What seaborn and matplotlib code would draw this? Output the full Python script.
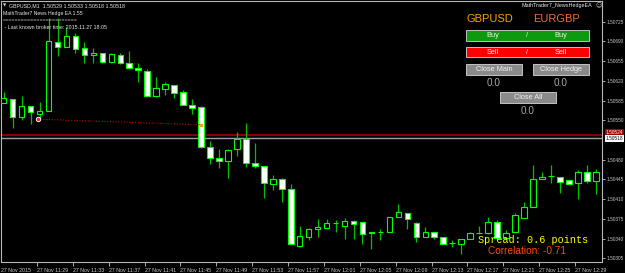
import matplotlib
matplotlib.use("Agg")
import matplotlib.pyplot as plt
import seaborn as sns
import numpy as np
import pandas as pd
from matplotlib.patches import Rectangle

# ---------------- data ----------------
open_ = [1.50581, 1.50588, 1.50556, 1.50575, 1.50561, 1.50566, 1.50689, 1.50680, 1.50700, 1.50678,
         1.50666, 1.50669, 1.50653, 1.50666, 1.50652, 1.50643, 1.50637, 1.50593, 1.50606, 1.50613,
         1.50600, 1.50577, 1.50574, 1.50503, 1.50483, 1.50478, 1.50499, 1.50517, 1.50474, 1.50469,
         1.50437, 1.50446, 1.50428, 1.50327, 1.50343, 1.50357, 1.50359, 1.50368, 1.50362, 1.50371,
         1.50369, 1.50350, 1.50352, 1.50352, 1.50378, 1.50385, 1.50368, 1.50343, 1.50352, 1.50343,
         1.50332, 1.50330, 1.50339, 1.50350, 1.50350, 1.50369, 1.50341, 1.50352, 1.50377, 1.50396,
         1.50446, 1.50451, 1.50449, 1.50444, 1.50439, 1.50458, 1.50442]
high = [1.50600, 1.50588, 1.50593, 1.50575, 1.50582, 1.50732, 1.50732, 1.50716, 1.50705, 1.50689,
        1.50678, 1.50669, 1.50669, 1.50669, 1.50673, 1.50652, 1.50641, 1.50627, 1.50618, 1.50613,
        1.50604, 1.50588, 1.50575, 1.50513, 1.50499, 1.50499, 1.50529, 1.50545, 1.50510, 1.50469,
        1.50453, 1.50448, 1.50437, 1.50362, 1.50359, 1.50375, 1.50375, 1.50373, 1.50377, 1.50373,
        1.50369, 1.50352, 1.50357, 1.50378, 1.50401, 1.50385, 1.50369, 1.50361, 1.50352, 1.50343,
        1.50338, 1.50339, 1.50352, 1.50362, 1.50378, 1.50373, 1.50355, 1.50385, 1.50405, 1.50471,
        1.50458, 1.50471, 1.50449, 1.50444, 1.50462, 1.50471, 1.50464]
low = [1.50581, 1.50536, 1.50550, 1.50543, 1.50550, 1.50566, 1.50664, 1.50680, 1.50669, 1.50652,
       1.50652, 1.50652, 1.50652, 1.50650, 1.50643, 1.50618, 1.50593, 1.50591, 1.50595, 1.50590,
       1.50577, 1.50561, 1.50501, 1.50472, 1.50465, 1.50448, 1.50487, 1.50467, 1.50465, 1.50412,
       1.50426, 1.50405, 1.50330, 1.50325, 1.50338, 1.50343, 1.50357, 1.50352, 1.50339, 1.50339,
       1.50330, 1.50322, 1.50338, 1.50352, 1.50378, 1.50357, 1.50334, 1.50343, 1.50339, 1.50330,
       1.50325, 1.50313, 1.50339, 1.50348, 1.50348, 1.50341, 1.50341, 1.50352, 1.50377, 1.50396,
       1.50446, 1.50439, 1.50421, 1.50437, 1.50410, 1.50439, 1.50419]
close = [1.50590, 1.50556, 1.50575, 1.50565, 1.50566, 1.50691, 1.50680, 1.50700, 1.50677, 1.50666,
         1.50669, 1.50653, 1.50668, 1.50652, 1.50643, 1.50639, 1.50593, 1.50607, 1.50614, 1.50598,
         1.50577, 1.50572, 1.50503, 1.50483, 1.50478, 1.50497, 1.50517, 1.50474, 1.50469, 1.50439,
         1.50446, 1.50428, 1.50330, 1.50345, 1.50357, 1.50361, 1.50368, 1.50368, 1.50371, 1.50366,
         1.50348, 1.50352, 1.50352, 1.50378, 1.50387, 1.50375, 1.50343, 1.50352, 1.50343, 1.50330,
         1.50332, 1.50339, 1.50350, 1.50350, 1.50369, 1.50341, 1.50350, 1.50382, 1.50396, 1.50446,
         1.50449, 1.50451, 1.50440, 1.50437, 1.50458, 1.50442, 1.50458]

time_labels = ["27 Nov 2015", "27 Nov 11:29", "27 Nov 11:33", "27 Nov 11:37", "27 Nov 11:41",
               "27 Nov 11:45", "27 Nov 11:49", "27 Nov 11:53", "27 Nov 11:57", "27 Nov 12:01",
               "27 Nov 12:05", "27 Nov 12:09", "27 Nov 12:13", "27 Nov 12:17", "27 Nov 12:21",
               "27 Nov 12:25", "27 Nov 12:29"]
time_label_bars = [0, 4, 8, 12, 16, 20, 24, 28, 32, 36, 40, 44, 48, 52, 56, 60, 64]
price_ticks = [1.50725, 1.50690, 1.50655, 1.50620, 1.50585, 1.50550, 1.50480,
               1.50445, 1.50410, 1.50375, 1.50340, 1.50305]
bid_price = 1.50518
ask_price = 1.50524
trade_x = [3.8, 22.0]
trade_price = [1.50552, 1.50542]

df = pd.DataFrame({"bar": np.arange(len(open_)), "open": open_, "high": high,
                   "low": low, "close": close})

# ---------------- figure ----------------
W, H = 625, 273
sns.set_theme(style="dark")
plt.rcParams["font.family"] = ["Liberation Sans", "DejaVu Sans"]
fig = plt.figure(figsize=(W / 100, H / 100), dpi=100, facecolor="black")

def fx(x):
    return x / W

def fy(y):
    return 1 - y / H

AX_RIGHT = 602
ax = fig.add_axes([fx(1), fy(262), fx(AX_RIGHT) - fx(1), fy(1) - fy(262)])
ax.set_facecolor("black")
for s in ax.spines.values():
    s.set_color("#b8b8b8")
    s.set_linewidth(0.8)

# wicks
ax.vlines(df["bar"], df["low"], df["high"], color="#00c000", lw=0.9, zorder=2)
# bodies
bull = df["close"] >= df["open"]
bottoms = np.minimum(df["open"], df["close"])
heights = np.abs(df["close"] - df["open"])
fills = np.where(bull, "black", "white")
ax.bar(df["bar"], heights, bottom=bottoms, width=0.62, color=fills,
       edgecolor="#00ff00", linewidth=0.8, zorder=3)

# price lines
ax.axhline(ask_price, color="#8b0000", lw=1.4, zorder=1)
ax.axhline(bid_price, color="#9aa0a8", lw=1.0, zorder=1)

# trade line
sns.lineplot(x=trade_x, y=trade_price, ax=ax, color="#c00000", lw=0.8,
             linestyle=(0, (1, 1.5)), zorder=4)
ax.plot([trade_x[0]], [trade_price[0]], marker="o", ms=3.2, color="#ff2020",
        mec="white", mew=0.6, zorder=5)
ax.plot([trade_x[1]], [trade_price[1]], marker="s", ms=2.0, color="#ff9900",
        mec="#ff9900", zorder=5)

ax.set_xlim((1 - 1.7) / 9, (AX_RIGHT - 1.7) / 9)
ax.set_ylim(1.502985, 1.507617)
ax.set_xlabel("")
ax.set_ylabel("")
ax.grid(False)

# right price axis
ax.yaxis.tick_right()
ax.set_yticks(price_ticks)
ax.set_yticklabels([f"{p:.5f}" for p in price_ticks])
ax.tick_params(axis="y", colors="#c8c8c8", labelsize=3.4, length=2.5, width=0.6,
               pad=0.8, right=True, left=False)
# bottom time axis
ax.set_xticks([b - 0.3 for b in time_label_bars])
ax.set_xticklabels(time_labels)
ax.tick_params(axis="x", colors="#c8c8c8", labelsize=3.8, length=3, width=0.6,
               pad=1.5, bottom=True)
for lab in ax.get_xticklabels():
    lab.set_horizontalalignment("left")
ax.get_xticklines()[0].set_visible(False)

# current price labels
ax.text(1.006, ask_price, "1.50524", transform=ax.get_yaxis_transform(),
        fontsize=3.4, color="#ffffff", va="bottom", ha="left",
        bbox=dict(boxstyle="square,pad=0.15", fc="#a00000", ec="none"), zorder=6,
        clip_on=False)
ax.text(1.006, bid_price, "1.50518", transform=ax.get_yaxis_transform(),
        fontsize=3.4, color="black", va="center", ha="left",
        bbox=dict(boxstyle="square,pad=0.2", fc="white", ec="none"), zorder=7,
        clip_on=False)

# ---------------- texts ----------------
def ptext(x, y, s, size, color, **kw):
    kw.setdefault("ha", "left")
    kw.setdefault("va", "center")
    fig.text(fx(x), fy(y), s, fontsize=size, color=color, **kw)

ptext(2.5, 5.5, "▼", 3.0, "#e0e0e0", family=["DejaVu Sans"])
ptext(9, 5.5, "GBPUSD,M1  1.50529 1.50533 1.50518 1.50518", 3.8, "#e8e8e8")
ptext(3, 13.5, "MathTrader7 News Hedge EA 1.55", 3.7, "#e8e8e8")
ptext(3, 20.5, "=" * 24, 3.75, "#c0c0c0")
ptext(3, 27.5, " - Last known broker time: 2015.11.27 18:05", 3.75, "#e8e8e8")

ptext(522, 6, "MathTrader7_NewsHedgeEA", 3.9, "#e8e8e8")
ptext(595, 6, "☺", 4.5, "#d0d0d0", family=["DejaVu Sans"])

ptext(489.5, 19, "GBPUSD", 8, "#f5a300", ha="center")
ptext(556, 19, "EURGBP", 8, "#f26a3c", ha="center")

def button(x0, y0, x1, y1, fc, ec="#d8d8d8"):
    r = Rectangle((fx(x0), fy(y1)), fx(x1) - fx(x0), fy(y0) - fy(y1),
                  transform=fig.transFigure, fc=fc, ec=ec, lw=0.6)
    fig.patches.append(r)

button(466, 30, 589, 41, "#0e9a0e")
ptext(493, 35.5, "Buy", 5.3, "#f0f0f0", ha="center")
ptext(527.5, 35.5, "/", 5.3, "#f0f0f0", ha="center")
ptext(561, 35.5, "Buy", 5.3, "#f0f0f0", ha="center")

button(466, 47, 589, 57, "#ff0000")
ptext(493, 52, "Sell", 5.3, "#ffffff", ha="center")
ptext(527.5, 52, "/", 5.3, "#ffffff", ha="center")
ptext(561, 52, "Sell", 5.3, "#ffffff", ha="center")

button(466, 64, 522, 75, "#8a8a8a")
ptext(494, 69.5, "Close Main", 5.3, "#f0f0f0", ha="center")
button(533, 64, 589, 75, "#8a8a8a")
ptext(561, 69.5, "Close Hedge", 5.3, "#f0f0f0", ha="center")
ptext(494, 83, "0.0", 7.2, "#a8a8a8", ha="center")
ptext(561, 83, "0.0", 7.2, "#a8a8a8", ha="center")

button(500, 92, 556, 103, "#8a8a8a")
ptext(528, 97.5, "Close All", 5.3, "#f0f0f0", ha="center")
ptext(528, 111, "0.0", 7.2, "#a8a8a8", ha="center")

ptext(533, 240, "Spread: 0.6 points", 7.3, "#ffff00", ha="center",
      family=["Liberation Mono", "DejaVu Sans Mono"])
ptext(527.5, 251, "Correlation: -0.71", 7.3, "#ff4a10", ha="center")

fig.savefig("out.png", dpi=100, facecolor="black")
